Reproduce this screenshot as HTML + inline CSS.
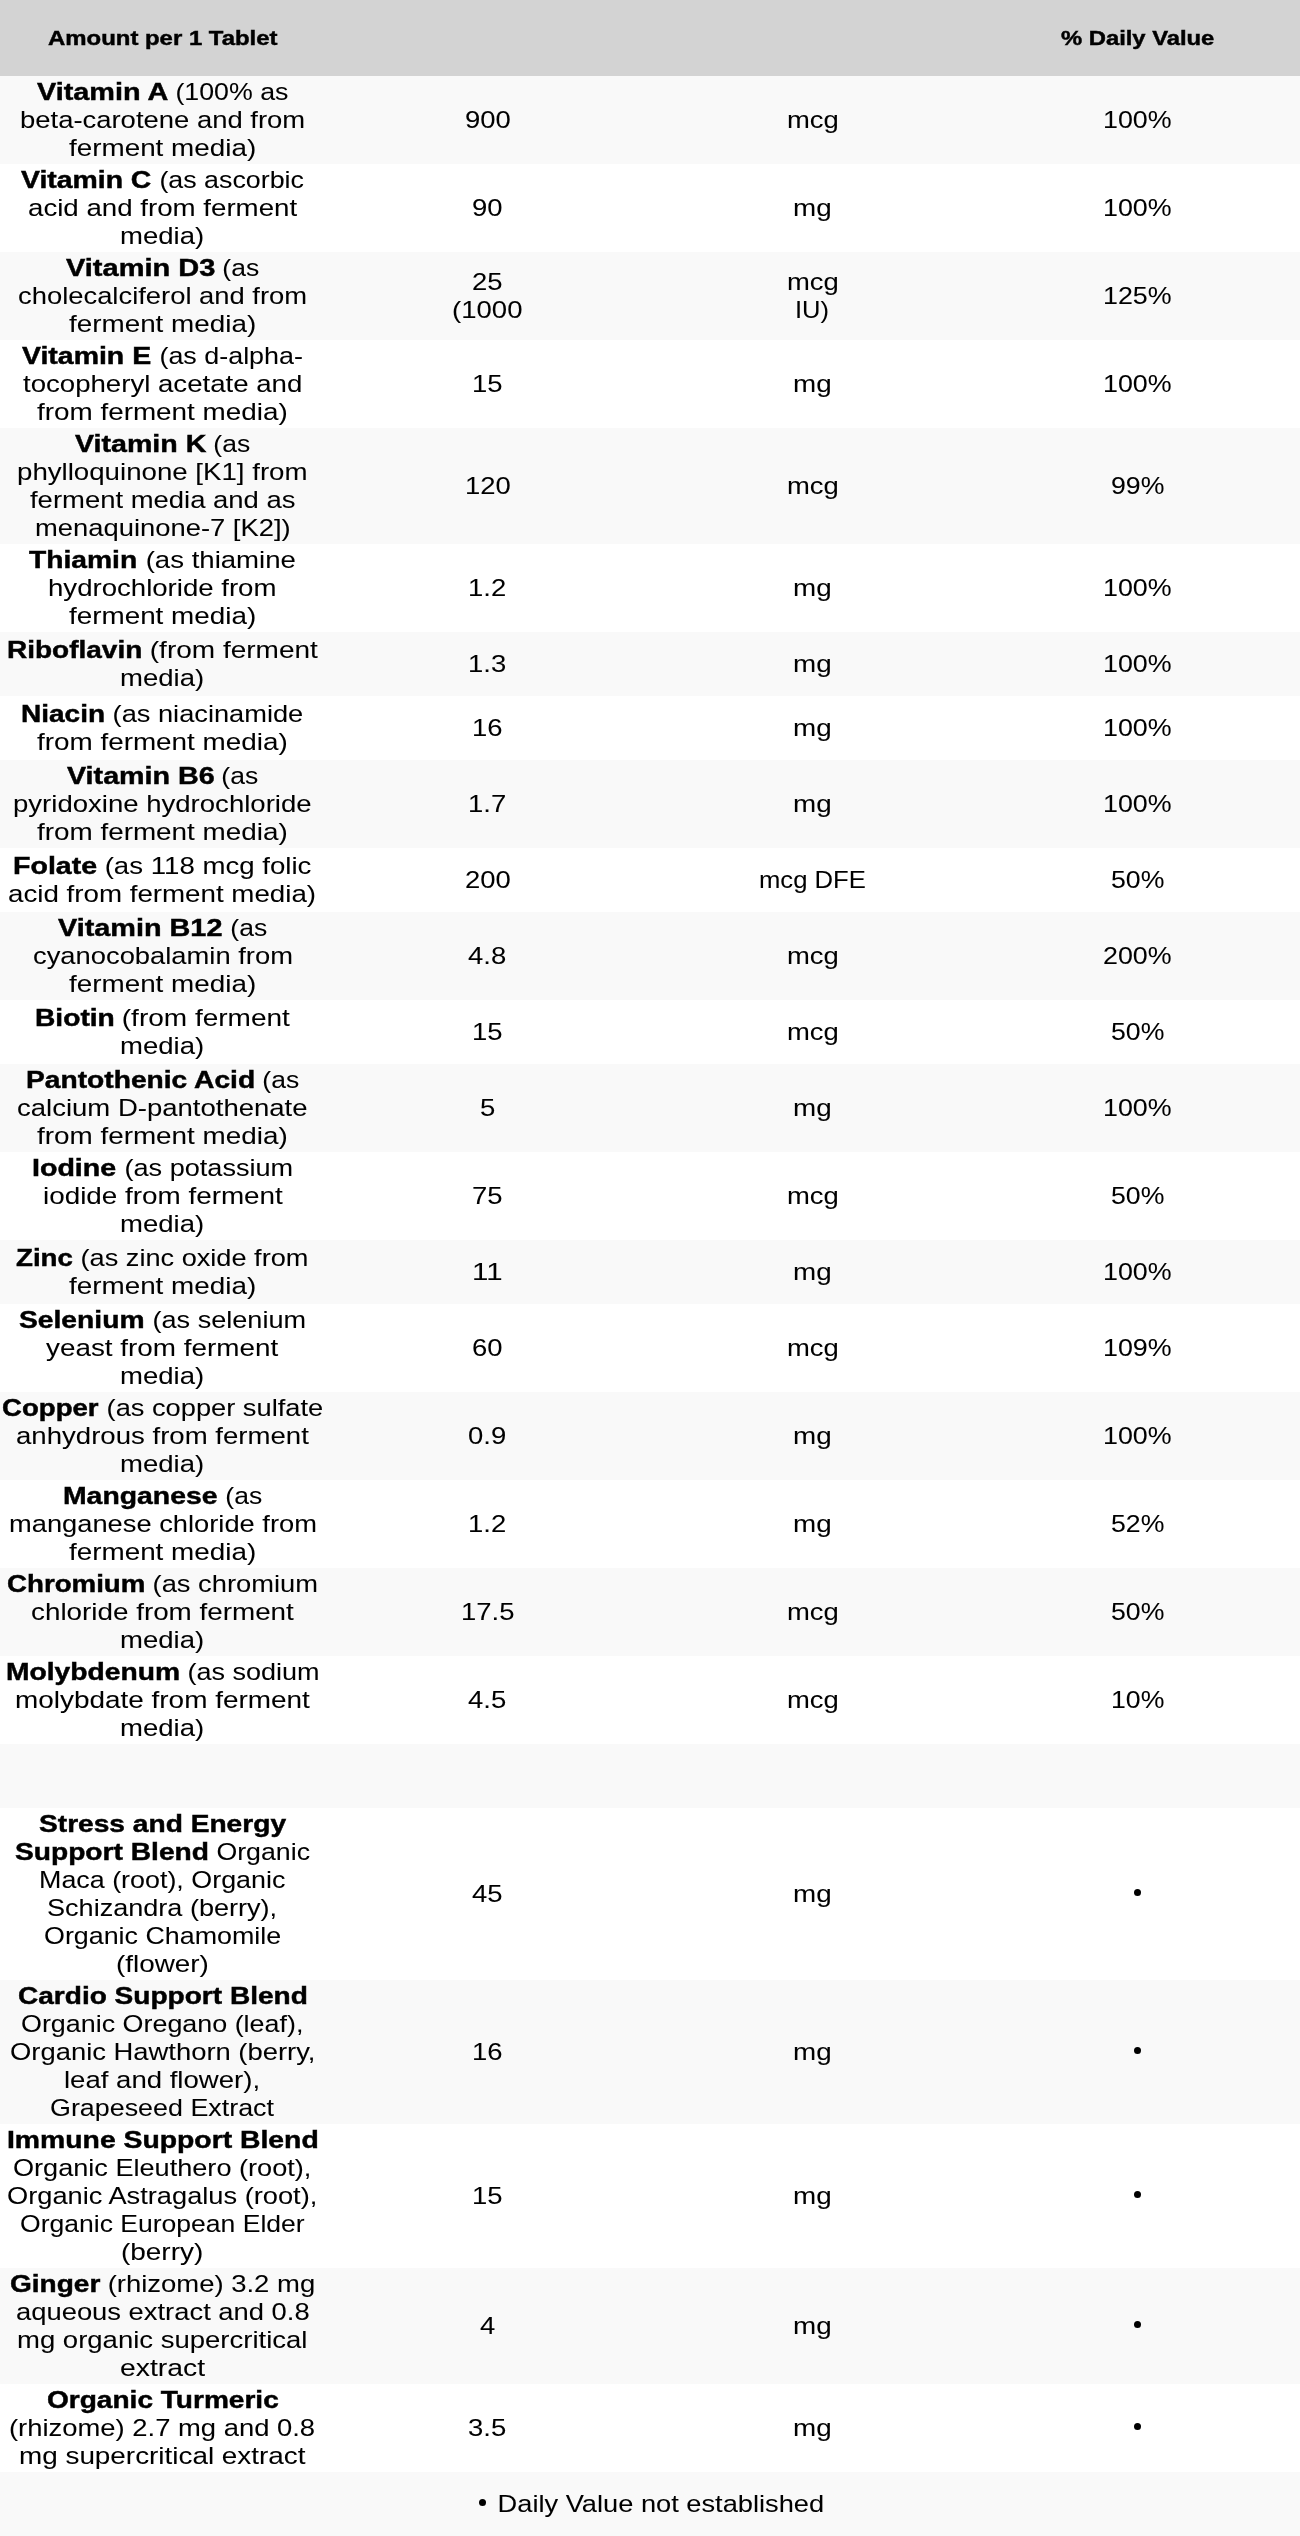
<!DOCTYPE html>
<html><head><meta charset="utf-8"><title>Supplement Facts</title><style>
*{margin:0;padding:0;box-sizing:border-box}
html,body{width:1300px;height:2536px;overflow:hidden;background:#fff}
body{font-family:"Liberation Sans", sans-serif;font-size:24.00px;line-height:28px;color:#000;-webkit-text-stroke:0.05px #000}
.row{display:flex;width:1300px;align-items:center}
.c{width:325px;text-align:center}
.ln{white-space:nowrap;height:28px}
.b{font-weight:bold;-webkit-text-stroke:0.45px #000}
.k{display:inline-block;white-space:pre;text-align:left;vertical-align:top;height:28px}
.i{display:inline-block;transform-origin:0 0;white-space:pre}
.dotw{position:relative}
.dot{position:absolute;top:9px;width:7px;height:7px;border-radius:50%;background:#000}
.wrap{will-change:transform}
.hd{background:#d3d3d3;height:76px}
.hd .c{font-size:20.00px;line-height:24px}
.hd .ln{height:24px}
.hd .k{height:24px}
.L{background:#f9f9f9}
.W{background:#fff}
.ft{justify-content:center}
</style></head>
<body><div class="wrap">
<div class="row hd"><div class="c"><div class="ln"><span class="k b" style="width:229.52px"><span class="i" style="transform:scaleX(1.1962)">Amount per 1 Tablet</span></span></div></div><div class="c"></div><div class="c"></div><div class="c"><div class="ln"><span class="k b" style="width:153.36px"><span class="i" style="transform:scaleX(1.1891)">% Daily Value</span></span></div></div></div>
<div class="row L" style="height:88px"><div class="c"><div class="ln"><span class="k b" style="width:131.30px"><span class="i" style="transform:scaleX(1.2006)">Vitamin A</span></span><span class="k n" style="width:120.45px"><span class="i" style="transform:scaleX(1.1147)"> (100% as</span></span></div><div class="ln"><span class="k n" style="width:285.12px"><span class="i" style="transform:scaleX(1.1429)">beta-carotene and from</span></span></div><div class="ln"><span class="k n" style="width:187.17px"><span class="i" style="transform:scaleX(1.1597)">ferment media)</span></span></div></div><div class="c"><div class="ln"><span class="k n" style="width:45.81px"><span class="i" style="transform:scaleX(1.1440)">900</span></span></div></div><div class="c"><div class="ln"><span class="k n" style="width:51.81px"><span class="i" style="transform:scaleX(1.1427)">mcg</span></span></div></div><div class="c"><div class="ln"><span class="k n" style="width:68.62px"><span class="i" style="transform:scaleX(1.1178)">100%</span></span></div></div></div>
<div class="row W" style="height:88px"><div class="c"><div class="ln"><span class="k b" style="width:130.34px"><span class="i" style="transform:scaleX(1.1823)">Vitamin C</span></span><span class="k n" style="width:151.89px"><span class="i" style="transform:scaleX(1.1165)"> (as ascorbic</span></span></div><div class="ln"><span class="k n" style="width:269.12px"><span class="i" style="transform:scaleX(1.1529)">acid and from ferment</span></span></div><div class="ln"><span class="k n" style="width:84.12px"><span class="i" style="transform:scaleX(1.1468)">media)</span></span></div></div><div class="c"><div class="ln"><span class="k n" style="width:30.55px"><span class="i" style="transform:scaleX(1.1439)">90</span></span></div></div><div class="c"><div class="ln"><span class="k n" style="width:38.62px"><span class="i" style="transform:scaleX(1.1584)">mg</span></span></div></div><div class="c"><div class="ln"><span class="k n" style="width:68.62px"><span class="i" style="transform:scaleX(1.1178)">100%</span></span></div></div></div>
<div class="row L" style="height:88px"><div class="c"><div class="ln"><span class="k b" style="width:149.34px"><span class="i" style="transform:scaleX(1.2082)">Vitamin D3</span></span><span class="k n" style="width:44.20px"><span class="i" style="transform:scaleX(1.1046)"> (as</span></span></div><div class="ln"><span class="k n" style="width:289.12px"><span class="i" style="transform:scaleX(1.1407)">cholecalciferol and from</span></span></div><div class="ln"><span class="k n" style="width:187.17px"><span class="i" style="transform:scaleX(1.1597)">ferment media)</span></span></div></div><div class="c"><div class="ln"><span class="k n" style="width:30.55px"><span class="i" style="transform:scaleX(1.1439)">25</span></span></div><div class="ln"><span class="k n" style="width:70.45px"><span class="i" style="transform:scaleX(1.1476)">(1000</span></span></div></div><div class="c"><div class="ln"><span class="k n" style="width:51.81px"><span class="i" style="transform:scaleX(1.1427)">mcg</span></span></div><div class="ln"><span class="k n" style="width:34.02px"><span class="i" style="transform:scaleX(1.0630)">IU)</span></span></div></div><div class="c"><div class="ln"><span class="k n" style="width:68.62px"><span class="i" style="transform:scaleX(1.1178)">125%</span></span></div></div></div>
<div class="row W" style="height:88px"><div class="c"><div class="ln"><span class="k b" style="width:129.12px"><span class="i" style="transform:scaleX(1.1853)">Vitamin E</span></span><span class="k n" style="width:150.92px"><span class="i" style="transform:scaleX(1.1201)"> (as d-alpha-</span></span></div><div class="ln"><span class="k n" style="width:279.30px"><span class="i" style="transform:scaleX(1.1501)">tocopheryl acetate and</span></span></div><div class="ln"><span class="k n" style="width:250.66px"><span class="i" style="transform:scaleX(1.1601)">from ferment media)</span></span></div></div><div class="c"><div class="ln"><span class="k n" style="width:30.55px"><span class="i" style="transform:scaleX(1.1439)">15</span></span></div></div><div class="c"><div class="ln"><span class="k n" style="width:38.62px"><span class="i" style="transform:scaleX(1.1584)">mg</span></span></div></div><div class="c"><div class="ln"><span class="k n" style="width:68.62px"><span class="i" style="transform:scaleX(1.1178)">100%</span></span></div></div></div>
<div class="row L" style="height:116px"><div class="c"><div class="ln"><span class="k b" style="width:131.33px"><span class="i" style="transform:scaleX(1.1912)">Vitamin K</span></span><span class="k n" style="width:44.20px"><span class="i" style="transform:scaleX(1.1046)"> (as</span></span></div><div class="ln"><span class="k n" style="width:290.50px"><span class="i" style="transform:scaleX(1.1521)">phylloquinone [K1] from</span></span></div><div class="ln"><span class="k n" style="width:265.44px"><span class="i" style="transform:scaleX(1.1435)">ferment media and as</span></span></div><div class="ln"><span class="k n" style="width:255.70px"><span class="i" style="transform:scaleX(1.1407)">menaquinone-7 [K2])</span></span></div></div><div class="c"><div class="ln"><span class="k n" style="width:45.81px"><span class="i" style="transform:scaleX(1.1440)">120</span></span></div></div><div class="c"><div class="ln"><span class="k n" style="width:51.81px"><span class="i" style="transform:scaleX(1.1427)">mcg</span></span></div></div><div class="c"><div class="ln"><span class="k n" style="width:53.34px"><span class="i" style="transform:scaleX(1.1102)">99%</span></span></div></div></div>
<div class="row W" style="height:88px"><div class="c"><div class="ln"><span class="k b" style="width:108.20px"><span class="i" style="transform:scaleX(1.1759)">Thiamin</span></span><span class="k n" style="width:157.86px"><span class="i" style="transform:scaleX(1.1490)"> (as thiamine</span></span></div><div class="ln"><span class="k n" style="width:228.45px"><span class="i" style="transform:scaleX(1.1494)">hydrochloride from</span></span></div><div class="ln"><span class="k n" style="width:187.17px"><span class="i" style="transform:scaleX(1.1597)">ferment media)</span></span></div></div><div class="c"><div class="ln"><span class="k n" style="width:38.17px"><span class="i" style="transform:scaleX(1.1437)">1.2</span></span></div></div><div class="c"><div class="ln"><span class="k n" style="width:38.62px"><span class="i" style="transform:scaleX(1.1584)">mg</span></span></div></div><div class="c"><div class="ln"><span class="k n" style="width:68.62px"><span class="i" style="transform:scaleX(1.1178)">100%</span></span></div></div></div>
<div class="row L" style="height:64px"><div class="c"><div class="ln"><span class="k b" style="width:135.33px"><span class="i" style="transform:scaleX(1.1665)">Riboflavin</span></span><span class="k n" style="width:175.91px"><span class="i" style="transform:scaleX(1.1672)"> (from ferment</span></span></div><div class="ln"><span class="k n" style="width:84.12px"><span class="i" style="transform:scaleX(1.1468)">media)</span></span></div></div><div class="c"><div class="ln"><span class="k n" style="width:38.17px"><span class="i" style="transform:scaleX(1.1437)">1.3</span></span></div></div><div class="c"><div class="ln"><span class="k n" style="width:38.62px"><span class="i" style="transform:scaleX(1.1584)">mg</span></span></div></div><div class="c"><div class="ln"><span class="k n" style="width:68.62px"><span class="i" style="transform:scaleX(1.1178)">100%</span></span></div></div></div>
<div class="row W" style="height:64px"><div class="c"><div class="ln"><span class="k b" style="width:84.05px"><span class="i" style="transform:scaleX(1.1668)">Niacin</span></span><span class="k n" style="width:198.25px"><span class="i" style="transform:scaleX(1.1345)"> (as niacinamide</span></span></div><div class="ln"><span class="k n" style="width:250.66px"><span class="i" style="transform:scaleX(1.1601)">from ferment media)</span></span></div></div><div class="c"><div class="ln"><span class="k n" style="width:30.55px"><span class="i" style="transform:scaleX(1.1439)">16</span></span></div></div><div class="c"><div class="ln"><span class="k n" style="width:38.62px"><span class="i" style="transform:scaleX(1.1584)">mg</span></span></div></div><div class="c"><div class="ln"><span class="k n" style="width:68.62px"><span class="i" style="transform:scaleX(1.1178)">100%</span></span></div></div></div>
<div class="row L" style="height:88px"><div class="c"><div class="ln"><span class="k b" style="width:147.72px"><span class="i" style="transform:scaleX(1.1950)">Vitamin B6</span></span><span class="k n" style="width:44.20px"><span class="i" style="transform:scaleX(1.1046)"> (as</span></span></div><div class="ln"><span class="k n" style="width:298.59px"><span class="i" style="transform:scaleX(1.1477)">pyridoxine hydrochloride</span></span></div><div class="ln"><span class="k n" style="width:250.66px"><span class="i" style="transform:scaleX(1.1601)">from ferment media)</span></span></div></div><div class="c"><div class="ln"><span class="k n" style="width:38.17px"><span class="i" style="transform:scaleX(1.1437)">1.7</span></span></div></div><div class="c"><div class="ln"><span class="k n" style="width:38.62px"><span class="i" style="transform:scaleX(1.1584)">mg</span></span></div></div><div class="c"><div class="ln"><span class="k n" style="width:68.62px"><span class="i" style="transform:scaleX(1.1178)">100%</span></span></div></div></div>
<div class="row W" style="height:64px"><div class="c"><div class="ln"><span class="k b" style="width:84.09px"><span class="i" style="transform:scaleX(1.1897)">Folate</span></span><span class="k n" style="width:214.38px"><span class="i" style="transform:scaleX(1.1507)"> (as 118 mcg folic</span></span></div><div class="ln"><span class="k n" style="width:308.09px"><span class="i" style="transform:scaleX(1.1549)">acid from ferment media)</span></span></div></div><div class="c"><div class="ln"><span class="k n" style="width:45.81px"><span class="i" style="transform:scaleX(1.1440)">200</span></span></div></div><div class="c"><div class="ln"><span class="k n" style="width:106.89px"><span class="i" style="transform:scaleX(1.0687)">mcg DFE</span></span></div></div><div class="c"><div class="ln"><span class="k n" style="width:53.34px"><span class="i" style="transform:scaleX(1.1102)">50%</span></span></div></div></div>
<div class="row L" style="height:88px"><div class="c"><div class="ln"><span class="k b" style="width:164.42px"><span class="i" style="transform:scaleX(1.2006)">Vitamin B12</span></span><span class="k n" style="width:44.20px"><span class="i" style="transform:scaleX(1.1046)"> (as</span></span></div><div class="ln"><span class="k n" style="width:259.94px"><span class="i" style="transform:scaleX(1.1395)">cyanocobalamin from</span></span></div><div class="ln"><span class="k n" style="width:187.17px"><span class="i" style="transform:scaleX(1.1597)">ferment media)</span></span></div></div><div class="c"><div class="ln"><span class="k n" style="width:38.17px"><span class="i" style="transform:scaleX(1.1437)">4.8</span></span></div></div><div class="c"><div class="ln"><span class="k n" style="width:51.81px"><span class="i" style="transform:scaleX(1.1427)">mcg</span></span></div></div><div class="c"><div class="ln"><span class="k n" style="width:68.62px"><span class="i" style="transform:scaleX(1.1178)">200%</span></span></div></div></div>
<div class="row W" style="height:64px"><div class="c"><div class="ln"><span class="k b" style="width:79.80px"><span class="i" style="transform:scaleX(1.1738)">Biotin</span></span><span class="k n" style="width:175.91px"><span class="i" style="transform:scaleX(1.1672)"> (from ferment</span></span></div><div class="ln"><span class="k n" style="width:84.12px"><span class="i" style="transform:scaleX(1.1468)">media)</span></span></div></div><div class="c"><div class="ln"><span class="k n" style="width:30.55px"><span class="i" style="transform:scaleX(1.1439)">15</span></span></div></div><div class="c"><div class="ln"><span class="k n" style="width:51.81px"><span class="i" style="transform:scaleX(1.1427)">mcg</span></span></div></div><div class="c"><div class="ln"><span class="k n" style="width:53.34px"><span class="i" style="transform:scaleX(1.1102)">50%</span></span></div></div></div>
<div class="row L" style="height:88px"><div class="c"><div class="ln"><span class="k b" style="width:229.12px"><span class="i" style="transform:scaleX(1.1742)">Pantothenic Acid</span></span><span class="k n" style="width:44.20px"><span class="i" style="transform:scaleX(1.1046)"> (as</span></span></div><div class="ln"><span class="k n" style="width:290.53px"><span class="i" style="transform:scaleX(1.1462)">calcium D-pantothenate</span></span></div><div class="ln"><span class="k n" style="width:250.66px"><span class="i" style="transform:scaleX(1.1601)">from ferment media)</span></span></div></div><div class="c"><div class="ln"><span class="k n" style="width:15.28px"><span class="i" style="transform:scaleX(1.1439)">5</span></span></div></div><div class="c"><div class="ln"><span class="k n" style="width:38.62px"><span class="i" style="transform:scaleX(1.1584)">mg</span></span></div></div><div class="c"><div class="ln"><span class="k n" style="width:68.62px"><span class="i" style="transform:scaleX(1.1178)">100%</span></span></div></div></div>
<div class="row W" style="height:88px"><div class="c"><div class="ln"><span class="k b" style="width:84.19px"><span class="i" style="transform:scaleX(1.1912)">Iodine</span></span><span class="k n" style="width:176.14px"><span class="i" style="transform:scaleX(1.1287)"> (as potassium</span></span></div><div class="ln"><span class="k n" style="width:239.80px"><span class="i" style="transform:scaleX(1.1598)">iodide from ferment</span></span></div><div class="ln"><span class="k n" style="width:84.12px"><span class="i" style="transform:scaleX(1.1468)">media)</span></span></div></div><div class="c"><div class="ln"><span class="k n" style="width:30.55px"><span class="i" style="transform:scaleX(1.1439)">75</span></span></div></div><div class="c"><div class="ln"><span class="k n" style="width:51.81px"><span class="i" style="transform:scaleX(1.1427)">mcg</span></span></div></div><div class="c"><div class="ln"><span class="k n" style="width:53.34px"><span class="i" style="transform:scaleX(1.1102)">50%</span></span></div></div></div>
<div class="row L" style="height:64px"><div class="c"><div class="ln"><span class="k b" style="width:56.95px"><span class="i" style="transform:scaleX(1.1542)">Zinc</span></span><span class="k n" style="width:235.44px"><span class="i" style="transform:scaleX(1.1315)"> (as zinc oxide from</span></span></div><div class="ln"><span class="k n" style="width:187.17px"><span class="i" style="transform:scaleX(1.1597)">ferment media)</span></span></div></div><div class="c"><div class="ln"><span class="k n" style="width:30.55px"><span class="i" style="transform:scaleX(1.2257)">11</span></span></div></div><div class="c"><div class="ln"><span class="k n" style="width:38.62px"><span class="i" style="transform:scaleX(1.1584)">mg</span></span></div></div><div class="c"><div class="ln"><span class="k n" style="width:68.62px"><span class="i" style="transform:scaleX(1.1178)">100%</span></span></div></div></div>
<div class="row W" style="height:88px"><div class="c"><div class="ln"><span class="k b" style="width:125.48px"><span class="i" style="transform:scaleX(1.1760)">Selenium</span></span><span class="k n" style="width:161.02px"><span class="i" style="transform:scaleX(1.1281)"> (as selenium</span></span></div><div class="ln"><span class="k n" style="width:232.12px"><span class="i" style="transform:scaleX(1.1603)">yeast from ferment</span></span></div><div class="ln"><span class="k n" style="width:84.12px"><span class="i" style="transform:scaleX(1.1468)">media)</span></span></div></div><div class="c"><div class="ln"><span class="k n" style="width:30.55px"><span class="i" style="transform:scaleX(1.1439)">60</span></span></div></div><div class="c"><div class="ln"><span class="k n" style="width:51.81px"><span class="i" style="transform:scaleX(1.1427)">mcg</span></span></div></div><div class="c"><div class="ln"><span class="k n" style="width:68.62px"><span class="i" style="transform:scaleX(1.1178)">109%</span></span></div></div></div>
<div class="row L" style="height:88px"><div class="c"><div class="ln"><span class="k b" style="width:96.58px"><span class="i" style="transform:scaleX(1.1497)">Copper</span></span><span class="k n" style="width:224.16px"><span class="i" style="transform:scaleX(1.1353)"> (as copper sulfate</span></span></div><div class="ln"><span class="k n" style="width:292.84px"><span class="i" style="transform:scaleX(1.1494)">anhydrous from ferment</span></span></div><div class="ln"><span class="k n" style="width:84.12px"><span class="i" style="transform:scaleX(1.1468)">media)</span></span></div></div><div class="c"><div class="ln"><span class="k n" style="width:38.17px"><span class="i" style="transform:scaleX(1.1437)">0.9</span></span></div></div><div class="c"><div class="ln"><span class="k n" style="width:38.62px"><span class="i" style="transform:scaleX(1.1584)">mg</span></span></div></div><div class="c"><div class="ln"><span class="k n" style="width:68.62px"><span class="i" style="transform:scaleX(1.1178)">100%</span></span></div></div></div>
<div class="row W" style="height:88px"><div class="c"><div class="ln"><span class="k b" style="width:154.47px"><span class="i" style="transform:scaleX(1.1817)">Manganese</span></span><span class="k n" style="width:44.20px"><span class="i" style="transform:scaleX(1.1046)"> (as</span></span></div><div class="ln"><span class="k n" style="width:307.89px"><span class="i" style="transform:scaleX(1.1369)">manganese chloride from</span></span></div><div class="ln"><span class="k n" style="width:187.17px"><span class="i" style="transform:scaleX(1.1597)">ferment media)</span></span></div></div><div class="c"><div class="ln"><span class="k n" style="width:38.17px"><span class="i" style="transform:scaleX(1.1437)">1.2</span></span></div></div><div class="c"><div class="ln"><span class="k n" style="width:38.62px"><span class="i" style="transform:scaleX(1.1584)">mg</span></span></div></div><div class="c"><div class="ln"><span class="k n" style="width:53.34px"><span class="i" style="transform:scaleX(1.1102)">52%</span></span></div></div></div>
<div class="row L" style="height:88px"><div class="c"><div class="ln"><span class="k b" style="width:138.36px"><span class="i" style="transform:scaleX(1.1530)">Chromium</span></span><span class="k n" style="width:172.91px"><span class="i" style="transform:scaleX(1.1373)"> (as chromium</span></span></div><div class="ln"><span class="k n" style="width:262.83px"><span class="i" style="transform:scaleX(1.1591)">chloride from ferment</span></span></div><div class="ln"><span class="k n" style="width:84.12px"><span class="i" style="transform:scaleX(1.1468)">media)</span></span></div></div><div class="c"><div class="ln"><span class="k n" style="width:53.44px"><span class="i" style="transform:scaleX(1.1438)">17.5</span></span></div></div><div class="c"><div class="ln"><span class="k n" style="width:51.81px"><span class="i" style="transform:scaleX(1.1427)">mcg</span></span></div></div><div class="c"><div class="ln"><span class="k n" style="width:53.34px"><span class="i" style="transform:scaleX(1.1102)">50%</span></span></div></div></div>
<div class="row W" style="height:88px"><div class="c"><div class="ln"><span class="k b" style="width:174.06px"><span class="i" style="transform:scaleX(1.1761)">Molybdenum</span></span><span class="k n" style="width:139.52px"><span class="i" style="transform:scaleX(1.1247)"> (as sodium</span></span></div><div class="ln"><span class="k n" style="width:294.83px"><span class="i" style="transform:scaleX(1.1633)">molybdate from ferment</span></span></div><div class="ln"><span class="k n" style="width:84.12px"><span class="i" style="transform:scaleX(1.1468)">media)</span></span></div></div><div class="c"><div class="ln"><span class="k n" style="width:38.17px"><span class="i" style="transform:scaleX(1.1437)">4.5</span></span></div></div><div class="c"><div class="ln"><span class="k n" style="width:51.81px"><span class="i" style="transform:scaleX(1.1427)">mcg</span></span></div></div><div class="c"><div class="ln"><span class="k n" style="width:53.34px"><span class="i" style="transform:scaleX(1.1102)">10%</span></span></div></div></div>
<div class="row L" style="height:64px"><div class="c"></div><div class="c"></div><div class="c"></div><div class="c"></div></div>
<div class="row W" style="height:172px"><div class="c"><div class="ln"><span class="k b" style="width:247.03px"><span class="i" style="transform:scaleX(1.1722)">Stress and Energy</span></span></div><div class="ln"><span class="k b" style="width:193.95px"><span class="i" style="transform:scaleX(1.1731)">Support Blend</span></span><span class="k n" style="width:100.98px"><span class="i" style="transform:scaleX(1.1134)"> Organic</span></span></div><div class="ln"><span class="k n" style="width:246.41px"><span class="i" style="transform:scaleX(1.1196)">Maca (root), Organic</span></span></div><div class="ln"><span class="k n" style="width:230.14px"><span class="i" style="transform:scaleX(1.1277)">Schizandra (berry),</span></span></div><div class="ln"><span class="k n" style="width:237.20px"><span class="i" style="transform:scaleX(1.1185)">Organic Chamomile</span></span></div><div class="ln"><span class="k n" style="width:92.80px"><span class="i" style="transform:scaleX(1.1597)">(flower)</span></span></div></div><div class="c"><div class="ln"><span class="k n" style="width:30.55px"><span class="i" style="transform:scaleX(1.1439)">45</span></span></div></div><div class="c"><div class="ln"><span class="k n" style="width:38.62px"><span class="i" style="transform:scaleX(1.1584)">mg</span></span></div></div><div class="c"><div class="ln"><span class="k dotw" style="width:14.16px"><span class="dot" style="left:3.58px"></span></span></div></div></div>
<div class="row L" style="height:144px"><div class="c"><div class="ln"><span class="k b" style="width:289.84px"><span class="i" style="transform:scaleX(1.1687)">Cardio Support Blend</span></span></div><div class="ln"><span class="k n" style="width:282.39px"><span class="i" style="transform:scaleX(1.1200)">Organic Oregano (leaf),</span></span></div><div class="ln"><span class="k n" style="width:305.47px"><span class="i" style="transform:scaleX(1.1413)">Organic Hawthorn (berry,</span></span></div><div class="ln"><span class="k n" style="width:196.06px"><span class="i" style="transform:scaleX(1.1481)">leaf and flower),</span></span></div><div class="ln"><span class="k n" style="width:224.03px"><span class="i" style="transform:scaleX(1.1195)">Grapeseed Extract</span></span></div></div><div class="c"><div class="ln"><span class="k n" style="width:30.55px"><span class="i" style="transform:scaleX(1.1439)">16</span></span></div></div><div class="c"><div class="ln"><span class="k n" style="width:38.62px"><span class="i" style="transform:scaleX(1.1584)">mg</span></span></div></div><div class="c"><div class="ln"><span class="k dotw" style="width:14.16px"><span class="dot" style="left:3.58px"></span></span></div></div></div>
<div class="row W" style="height:144px"><div class="c"><div class="ln"><span class="k b" style="width:311.70px"><span class="i" style="transform:scaleX(1.1807)">Immune Support Blend</span></span></div><div class="ln"><span class="k n" style="width:298.31px"><span class="i" style="transform:scaleX(1.1294)">Organic Eleuthero (root),</span></span></div><div class="ln"><span class="k n" style="width:310.31px"><span class="i" style="transform:scaleX(1.1348)">Organic Astragalus (root),</span></span></div><div class="ln"><span class="k n" style="width:284.62px"><span class="i" style="transform:scaleX(1.1054)">Organic European Elder</span></span></div><div class="ln"><span class="k n" style="width:82.25px"><span class="i" style="transform:scaleX(1.1638)">(berry)</span></span></div></div><div class="c"><div class="ln"><span class="k n" style="width:30.55px"><span class="i" style="transform:scaleX(1.1439)">15</span></span></div></div><div class="c"><div class="ln"><span class="k n" style="width:38.62px"><span class="i" style="transform:scaleX(1.1584)">mg</span></span></div></div><div class="c"><div class="ln"><span class="k dotw" style="width:14.16px"><span class="dot" style="left:3.58px"></span></span></div></div></div>
<div class="row L" style="height:116px"><div class="c"><div class="ln"><span class="k b" style="width:90.31px"><span class="i" style="transform:scaleX(1.1677)">Ginger</span></span><span class="k n" style="width:215.16px"><span class="i" style="transform:scaleX(1.1441)"> (rhizome) 3.2 mg</span></span></div><div class="ln"><span class="k n" style="width:293.67px"><span class="i" style="transform:scaleX(1.1403)">aqueous extract and 0.8</span></span></div><div class="ln"><span class="k n" style="width:290.45px"><span class="i" style="transform:scaleX(1.1461)">mg organic supercritical</span></span></div><div class="ln"><span class="k n" style="width:85.14px"><span class="i" style="transform:scaleX(1.1820)">extract</span></span></div></div><div class="c"><div class="ln"><span class="k n" style="width:15.28px"><span class="i" style="transform:scaleX(1.1439)">4</span></span></div></div><div class="c"><div class="ln"><span class="k n" style="width:38.62px"><span class="i" style="transform:scaleX(1.1584)">mg</span></span></div></div><div class="c"><div class="ln"><span class="k dotw" style="width:14.16px"><span class="dot" style="left:3.58px"></span></span></div></div></div>
<div class="row W" style="height:88px"><div class="c"><div class="ln"><span class="k b" style="width:231.75px"><span class="i" style="transform:scaleX(1.1688)">Organic Turmeric</span></span></div><div class="ln"><span class="k n" style="width:306.09px"><span class="i" style="transform:scaleX(1.1416)">(rhizome) 2.7 mg and 0.8</span></span></div><div class="ln"><span class="k n" style="width:286.45px"><span class="i" style="transform:scaleX(1.1609)">mg supercritical extract</span></span></div></div><div class="c"><div class="ln"><span class="k n" style="width:38.17px"><span class="i" style="transform:scaleX(1.1437)">3.5</span></span></div></div><div class="c"><div class="ln"><span class="k n" style="width:38.62px"><span class="i" style="transform:scaleX(1.1584)">mg</span></span></div></div><div class="c"><div class="ln"><span class="k dotw" style="width:14.16px"><span class="dot" style="left:3.58px"></span></span></div></div></div>
<div class="row L ft" style="height:64px"><div style="text-align:center"><div class="ln"><span class="k dotw" style="width:14.16px"><span class="dot" style="left:3.58px"></span></span><span class="k n" style="width:334.12px"><span class="i" style="transform:scaleX(1.1349)"> Daily Value not established</span></span></div></div></div>
</div></body></html>
